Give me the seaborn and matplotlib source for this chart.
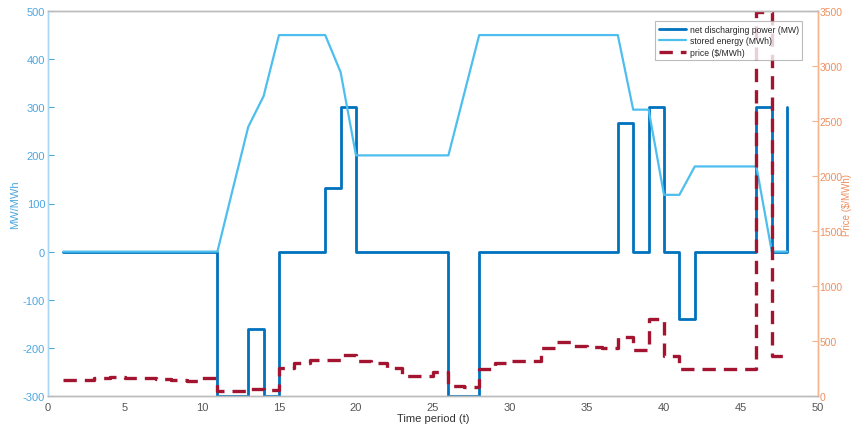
import numpy as np
import pandas as pd
import matplotlib
matplotlib.use("Agg")
import matplotlib.pyplot as plt
import seaborn as sns

periods = list(range(1, 49))
net_discharge = [0]*10 + [-300, -300, -160, -300] + [0]*3 + [133, 300] + [0]*6 + [-300, -300] + [0]*9 \
    + [267, 0, 300, 0, -140] + [0]*4 + [300, 0, 300]
stored_energy = [0]*11 + [130, 259, 323] + [450]*4 + [373] + [200]*7 + [325] + [450]*10 \
    + [295, 295, 118, 118] + [177]*5 + [0, 0]
price = [148, 150, 166, 170, 168, 160, 155, 150, 139, 163,
         42, 45, 64, 55, 252, 297, 330, 330, 373, 318,
         300, 252, 185, 185, 221, 88, 79, 245, 300, 321,
         321, 436, 494, 457, 442, 433, 533, 421, 700, 366,
         245, 250, 250, 245, 250, 3490, 366, 366]

df = pd.DataFrame({"t": periods, "net": net_discharge, "stored": stored_energy, "price": price})

sns.set_theme(style="white")
plt.rcParams['font.family'] = ['Liberation Sans', 'DejaVu Sans']
plt.rcParams['axes.unicode_minus'] = False

fig = plt.figure(figsize=(8.53, 4.27), dpi=100)
ax = fig.add_axes([48/853, 1-397/427, (818-48)/853, (397-12)/427])
ax2 = ax.twinx()

c_net = "#0072BD"
c_sto = "#4DBEEE"
c_price = "#A2142F"
left_c = "#4DA6E0"
right_c = "#F4B48C"
right_txt = "#EE9060"

sns.lineplot(data=df, x="t", y="net", ax=ax, color=c_net, lw=2.0, drawstyle="steps-post",
             label="net discharging power (MW)", legend=False)
sns.lineplot(data=df, x="t", y="stored", ax=ax, color=c_sto, lw=1.6,
             label="stored energy (MWh)", legend=False)
sns.lineplot(data=df, x="t", y="price", ax=ax2, color=c_price, lw=2.4, drawstyle="steps-post",
             label="price ($/MWh)", legend=False)
ax2.lines[0].set_dashes([4, 2.4])

ax.set_xlim(0, 50)
ax.set_ylim(-300, 500)
ax2.set_ylim(0, 3500)
ax.set_xticks(range(0, 51, 5))
ax.set_yticks(range(-300, 501, 100))
ax2.set_yticks(range(0, 3501, 500))

ax.set_xlabel("Time period (t)", fontsize=8, color="#333333", labelpad=1)
ax.set_ylabel("MW/MWh", fontsize=8, color=left_c, labelpad=2)
ax2.set_ylabel("Price ($/MWh)", fontsize=7, color=right_txt)
ax2.yaxis.set_label_coords(1.031, 0.5)

for a in (ax, ax2):
    a.tick_params(direction="in", length=4, width=0.8, labelsize=8, pad=2)
ax.tick_params(axis="x", colors="#999999", labelcolor="#555555", pad=4)
ax.tick_params(axis="y", colors=left_c, labelcolor=left_c)
ax2.tick_params(axis="y", colors=right_c, labelcolor=right_txt, pad=1, labelsize=7.5)

for a in (ax, ax2):
    a.spines["top"].set_color("#BBBBBB")
    a.spines["bottom"].set_color("#BBBBBB")
    a.spines["left"].set_color("#A8D8F5")
    a.spines["right"].set_color(right_c)
    for s in a.spines.values():
        s.set_linewidth(1.0)
ax.grid(False)
ax2.grid(False)

h1, l1 = ax.get_legend_handles_labels()
h2, l2 = ax2.get_legend_handles_labels()
leg = ax2.legend(h1 + h2, l1 + l2, loc="upper right", bbox_to_anchor=(0.985, 0.985),
                 fontsize=6.2, frameon=True, fancybox=False, borderpad=0.4,
                 handlelength=3.2, labelspacing=0.3, handletextpad=0.4)
leg.get_frame().set_edgecolor("#AAAAAA")
leg.get_frame().set_linewidth(0.8)

fig.savefig("out.png", dpi=100)
